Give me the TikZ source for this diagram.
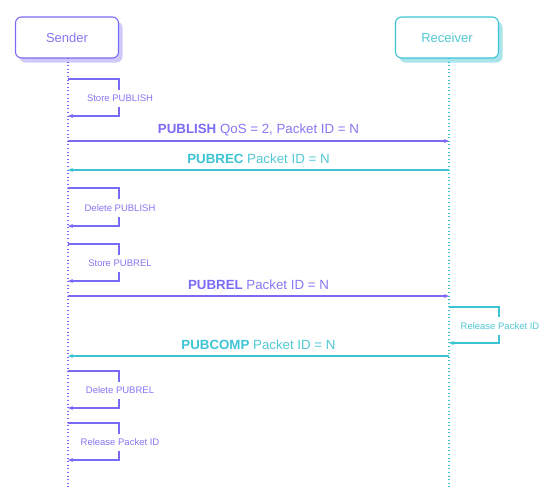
\documentclass[tikz,border=0pt]{standalone}
\usepackage{fontspec}
\setmainfont{Liberation Sans}
\usetikzlibrary{arrows.meta}
\definecolor{pur}{HTML}{7A6BF7}
\definecolor{purtxt}{HTML}{8577F5}
\definecolor{purshadow}{HTML}{CFC9FC}
\definecolor{tea}{HTML}{3DC4D4}
\definecolor{teatxt}{HTML}{52C8D6}
\definecolor{teashadow}{HTML}{A9E4EC}
\tikzset{
  actor/.style={draw, line width=1.1pt, rounded corners=6pt, fill=white, minimum width=103pt, minimum height=41pt, font=\fontsize{13}{15}\selectfont},
  lifeline/.style={line width=1.1pt, dash pattern=on 1pt off 2.6pt},
  msg/.style={line width=1.2pt, -{Stealth[length=5pt,width=4pt]}},
  msglabel/.style={font=\fontsize{13.3}{15}\selectfont, inner sep=0pt},
  looplabel/.style={font=\fontsize{9.5}{11}\selectfont, fill=white, inner xsep=2pt, inner ysep=5.5pt},
}
\begin{document}
\begin{tikzpicture}[x=1pt,y=-1pt]
\useasboundingbox (0,0) rectangle (555,504);
% shadows
\fill[purshadow, rounded corners=6pt] (19.5,21.5) rectangle (122.5,62.5);
\fill[teashadow, rounded corners=6pt] (399.5,21.5) rectangle (502.5,62.5);
% actors
\node[actor, draw=pur, text=purtxt] (snd) at (67,37.5) {Sender};
\node[actor, draw=tea, text=teatxt] (rcv) at (447,37.5) {Receiver};
\coordinate (sndend) at (68,488);
\coordinate (rcvend) at (449,488);
\coordinate (sndtop) at (68,58);
\coordinate (rcvtop) at (449,58);
\draw[lifeline, pur] (sndtop) -- (sndend);
\draw[lifeline, tea] (rcvtop) -- (rcvend);
% sender self loops
\foreach \t/\b/\lab [count=\i] in {79/116/Store PUBLISH, 188/226/Delete PUBLISH, 244/281/Store PUBREL, 371/408/Delete PUBREL, 423/460/Release Packet ID}{
  \coordinate (la\i) at (68,\t);
  \coordinate (lb\i) at (68,\b);
  \draw[msg, pur] (la\i) -- (119,\t) -- (119,\b) -- (lb\i);
  \node[looplabel, text=purtxt] (ll\i) at (120,{(\t+\b)/2+1}) {\lab};
}
% receiver self loop
\coordinate (ra) at (449,307);
\coordinate (rb) at (449,343);
\draw[msg, tea] (ra) -- (499,307) -- (499,343) -- (rb);
\node[looplabel, text=teatxt] (rl) at (500,326) {Release Packet ID};
% messages
\coordinate (s1) at (68,141); \coordinate (r1) at (449,141);
\draw[msg, pur] (s1) -- (r1);
\node[msglabel, text=purtxt] (m1) at (258.5,130) {\textbf{\color{pur}PUBLISH} QoS = 2, Packet ID = N};
\coordinate (s2) at (68,170); \coordinate (r2) at (449,170);
\draw[msg, tea] (r2) -- (s2);
\node[msglabel, text=teatxt] (m2) at (258.5,159) {\textbf{\color{tea}PUBREC} Packet ID = N};
\coordinate (s3) at (68,296); \coordinate (r3) at (449,296);
\draw[msg, pur] (s3) -- (r3);
\node[msglabel, text=purtxt] (m3) at (258.5,285) {\textbf{\color{pur}PUBREL} Packet ID = N};
\coordinate (s4) at (68,356); \coordinate (r4) at (449,356);
\draw[msg, tea] (r4) -- (s4);
\node[msglabel, text=teatxt] (m4) at (258.5,345) {\textbf{\color{tea}PUBCOMP} Packet ID = N};
\end{tikzpicture}
\end{document}
